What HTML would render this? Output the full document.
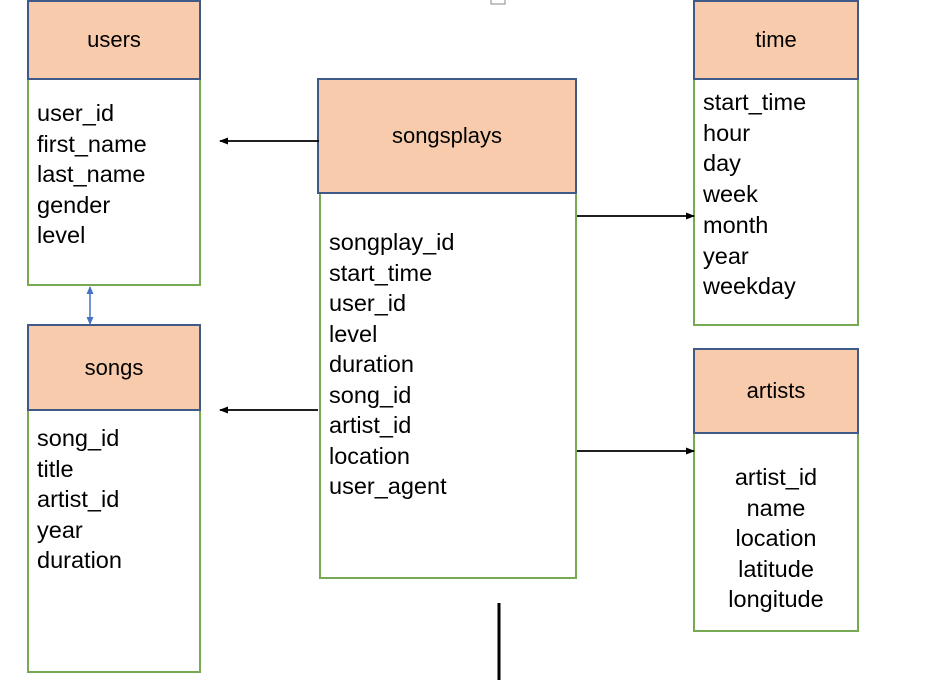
<!DOCTYPE html>
<html><head><meta charset="utf-8"><style>
body{margin:0;width:944px;height:680px;background:#fff;overflow:hidden;position:relative;font-family:"Liberation Sans",sans-serif;color:#000}
.h{position:absolute;background:#f8cbad;border:2px solid #3f5a87;box-sizing:border-box;display:flex;align-items:center;justify-content:center;font-size:22px}
.b{position:absolute;border:2px solid #77a852;box-sizing:border-box;background:#fff}
.t{position:absolute;font-size:23.5px;line-height:30.5px;white-space:pre}
</style></head><body>
<div class="b" style="left:27px;top:77px;width:174px;height:209px"></div>
<div class="h" style="left:27px;top:0;width:174px;height:80px">users</div>
<div class="t" style="left:37px;top:98px">user_id
first_name
last_name
gender
level</div>
<div class="b" style="left:27px;top:408px;width:174px;height:265px"></div>
<div class="h" style="left:27px;top:324px;width:174px;height:87px">songs</div>
<div class="t" style="left:37px;top:423px">song_id
title
artist_id
year
duration</div>
<div class="b" style="left:319px;top:190px;width:258px;height:389px"></div>
<div class="h" style="left:317px;top:78px;width:260px;height:116px">songsplays</div>
<div class="t" style="left:329px;top:227px">songplay_id
start_time
user_id
level
duration
song_id
artist_id
location
user_agent</div>
<div class="b" style="left:693px;top:77px;width:166px;height:249px"></div>
<div class="h" style="left:693px;top:0;width:166px;height:80px">time</div>
<div class="t" style="left:703px;top:87px;line-height:30.7px">start_time
hour
day
week
month
year
weekday</div>
<div class="b" style="left:693px;top:431px;width:166px;height:201px"></div>
<div class="h" style="left:693px;top:348px;width:166px;height:86px">artists</div>
<div class="t" style="left:693px;width:166px;text-align:center;top:462px">artist_id
name
location
latitude
longitude</div>
<svg width="944" height="680" style="position:absolute;left:0;top:0">
<defs>
<marker id="a" markerWidth="9" markerHeight="9" refX="8" refY="4.5" orient="auto" markerUnits="userSpaceOnUse"><path d="M0,1 L9,4.5 L0,8 Z" fill="#000"/></marker>
<marker id="bl" markerWidth="8" markerHeight="8" refX="7" refY="4" orient="auto-start-reverse" markerUnits="userSpaceOnUse"><path d="M0,0.5 L8,4 L0,7.5 Z" fill="#4472c4"/></marker>
</defs>
<line x1="319" y1="141" x2="220" y2="141" stroke="#000" stroke-width="1.8" marker-end="url(#a)"/>
<line x1="318" y1="410" x2="220" y2="410" stroke="#000" stroke-width="1.8" marker-end="url(#a)"/>
<line x1="577" y1="216" x2="694" y2="216" stroke="#000" stroke-width="1.8" marker-end="url(#a)"/>
<line x1="577" y1="451" x2="694" y2="451" stroke="#000" stroke-width="1.8" marker-end="url(#a)"/>
<line x1="90" y1="287" x2="90" y2="324" stroke="#4472c4" stroke-width="1.5" marker-start="url(#bl)" marker-end="url(#bl)"/>
<line x1="499" y1="603" x2="499" y2="680" stroke="#000" stroke-width="3"/>
<rect x="491" y="-2" width="14" height="6" fill="#fff" stroke="#888" stroke-width="1"/>
</svg>
</body></html>
